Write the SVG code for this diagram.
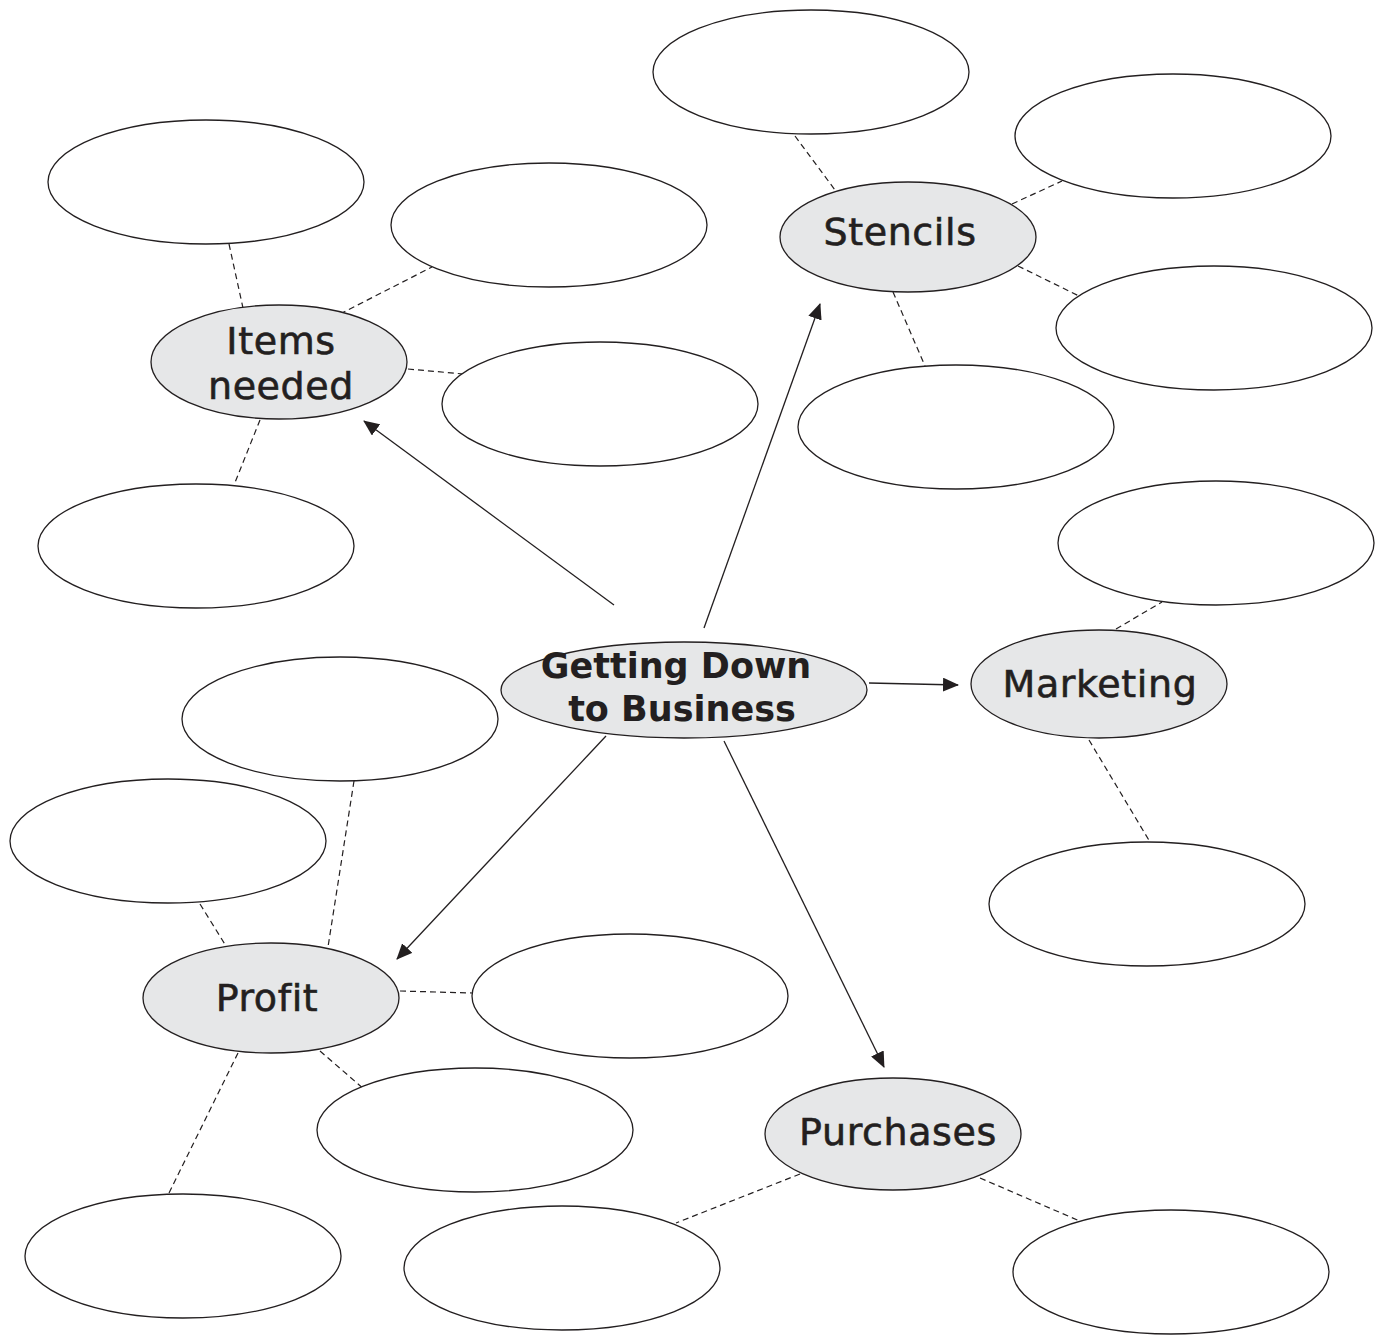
<svg xmlns="http://www.w3.org/2000/svg" width="1377" height="1335" viewBox="0 0 1377 1335">
<style>
.blank{fill:#ffffff;stroke:#231f20;stroke-width:1.3}
.topic{fill:#e6e7e8;stroke:#231f20;stroke-width:1.3}
.lbl{font-family:"DejaVu Sans",sans-serif;font-size:38px;fill:#231f20;stroke:#231f20;stroke-width:0.6;letter-spacing:0.6px;text-anchor:middle}
.main{font-family:"DejaVu Sans",sans-serif;font-size:35px;font-weight:bold;fill:#231f20;text-anchor:middle}
.arrow{stroke:#231f20;stroke-width:1.3;fill:none;marker-end:url(#ah)}
.dash{stroke:#231f20;stroke-width:1.2;fill:none;stroke-dasharray:6 4}
</style>
<defs>
<marker id="ah" markerUnits="userSpaceOnUse" markerWidth="16" markerHeight="14" viewBox="0 0 16 14" refX="15" refY="7" orient="auto">
<path d="M0,0 L16,7 L0,14 Z" fill="#231f20"/>
</marker>
</defs>
<rect width="1377" height="1335" fill="#ffffff"/>
<g id="connectors">
<line class="arrow" x1="614" y1="605" x2="364" y2="421"/>
<line class="arrow" x1="704" y1="628" x2="820" y2="304"/>
<line class="arrow" x1="869" y1="683" x2="958" y2="685"/>
<line class="arrow" x1="606" y1="736" x2="397" y2="959"/>
<line class="arrow" x1="724" y1="741" x2="884" y2="1067"/>
<line class="dash" x1="229" y1="244" x2="243" y2="308"/>
<line class="dash" x1="340" y1="314" x2="432" y2="267"/>
<line class="dash" x1="408" y1="369" x2="463" y2="374"/>
<line class="dash" x1="260" y1="420" x2="234" y2="485"/>
<line class="dash" x1="795" y1="136" x2="835" y2="190"/>
<line class="dash" x1="1012" y1="204" x2="1062" y2="181"/>
<line class="dash" x1="1018" y1="266" x2="1079" y2="296"/>
<line class="dash" x1="893" y1="292" x2="925" y2="366"/>
<line class="dash" x1="1116" y1="629" x2="1162" y2="602"/>
<line class="dash" x1="1089" y1="740" x2="1150" y2="842"/>
<line class="dash" x1="354" y1="781" x2="328" y2="947"/>
<line class="dash" x1="200" y1="904" x2="226" y2="946"/>
<line class="dash" x1="400" y1="991" x2="472" y2="993"/>
<line class="dash" x1="320" y1="1051" x2="365" y2="1090"/>
<line class="dash" x1="238" y1="1053" x2="169" y2="1193"/>
<line class="dash" x1="800" y1="1174" x2="676" y2="1223"/>
<line class="dash" x1="980" y1="1178" x2="1082" y2="1222"/>
</g>
<g id="blanks">
<ellipse id="b1" class="blank" cx="206" cy="182" rx="158" ry="62"/>
<ellipse id="b2" class="blank" cx="549" cy="225" rx="158" ry="62"/>
<ellipse id="b3" class="blank" cx="600" cy="404" rx="158" ry="62"/>
<ellipse id="b4" class="blank" cx="196" cy="546" rx="158" ry="62"/>
<ellipse id="b5" class="blank" cx="811" cy="72" rx="158" ry="62"/>
<ellipse id="b6" class="blank" cx="1173" cy="136" rx="158" ry="62"/>
<ellipse id="b7" class="blank" cx="1214" cy="328" rx="158" ry="62"/>
<ellipse id="b8" class="blank" cx="956" cy="427" rx="158" ry="62"/>
<ellipse id="b9" class="blank" cx="1216" cy="543" rx="158" ry="62"/>
<ellipse id="b10" class="blank" cx="1147" cy="904" rx="158" ry="62"/>
<ellipse id="b11" class="blank" cx="340" cy="719" rx="158" ry="62"/>
<ellipse id="b12" class="blank" cx="168" cy="841" rx="158" ry="62"/>
<ellipse id="b13" class="blank" cx="630" cy="996" rx="158" ry="62"/>
<ellipse id="b14" class="blank" cx="475" cy="1130" rx="158" ry="62"/>
<ellipse id="b15" class="blank" cx="183" cy="1256" rx="158" ry="62"/>
<ellipse id="b16" class="blank" cx="562" cy="1268" rx="158" ry="62"/>
<ellipse id="b17" class="blank" cx="1171" cy="1272" rx="158" ry="62"/>
</g>
<g id="items-needed">
<ellipse class="topic" cx="279" cy="362" rx="128" ry="57"/>
<text class="lbl" x="281" y="354">Items</text>
<text class="lbl" x="281" y="399">needed</text>
</g>
<g id="stencils">
<ellipse class="topic" cx="908" cy="237" rx="128" ry="55"/>
<text class="lbl" x="900" y="245">Stencils</text>
</g>
<g id="getting-down">
<ellipse class="topic" cx="684" cy="690" rx="183" ry="48"/>
<text class="main" x="676" y="678">Getting Down</text>
<text class="main" x="682" y="721">to Business</text>
</g>
<g id="marketing">
<ellipse class="topic" cx="1099" cy="684" rx="128" ry="54"/>
<text class="lbl" x="1100" y="697">Marketing</text>
</g>
<g id="profit">
<ellipse class="topic" cx="271" cy="998" rx="128" ry="55"/>
<text class="lbl" x="267" y="1011">Profit</text>
</g>
<g id="purchases">
<ellipse class="topic" cx="893" cy="1134" rx="128" ry="56"/>
<text class="lbl" x="898" y="1145">Purchases</text>
</g>
</svg>
